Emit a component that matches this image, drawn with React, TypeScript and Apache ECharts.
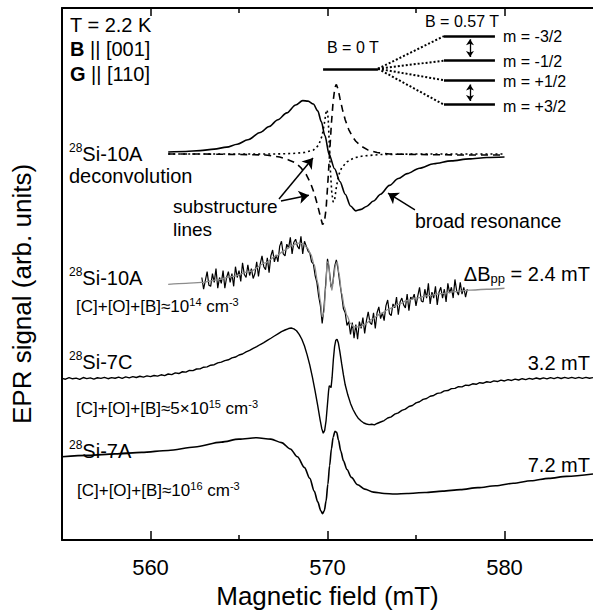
import React, { useEffect, useRef } from "react";
import * as echarts from "echarts";

const FONT = "'Liberation Sans', Arial, Helvetica, sans-serif";

// Axis settings (magnetic field, mT)
const X_MIN = 555;
const X_MAX = 585;
const Y_MIN = 0;
const Y_MAX = 543;
const MAJOR_TICKS = [560, 570, 580];
const MINOR_TICKS = [565, 575];

// ---- 28Si-10A deconvolution ----
const broadResonance: [number, number][] = [
  [561.0, 396], [562.0, 396.5], [562.8, 397.5], [563.6, 399], [564.3, 401], [564.9, 404],
  [565.5, 408.5], [566.2, 416], [566.7, 422], [567.2, 429], [567.7, 436], [568.2, 444],
  [568.6, 448.5], [568.9, 448], [569.2, 445], [569.45, 438], [569.65, 427], [569.85, 413],
  [570.1, 393], [570.4, 379], [570.7, 366], [571.0, 353], [571.3, 341], [571.6, 336],
  [571.9, 337.5], [572.2, 340.5], [572.6, 346], [573.0, 353], [573.5, 362], [574.0, 369],
  [574.5, 374], [575.2, 379.5], [576.0, 384], [577.0, 387], [578.0, 389], [579.0, 390.5], [580.0, 391],
];

const substructureDashed: [number, number][] = [
  [561.0, 394], [563.0, 394], [565.0, 393.5], [566.5, 393], [567.3, 391], [567.8, 388],
  [568.2, 385], [568.5, 380], [568.8, 373], [569.05, 364], [569.25, 354], [569.45, 341],
  [569.6, 330], [569.72, 322], [569.82, 324], [569.92, 338], [570.02, 365], [570.12, 395],
  [570.22, 425], [570.32, 448], [570.42, 462], [570.5, 465], [570.6, 460], [570.7, 451],
  [570.85, 439], [571.0, 429], [571.2, 419], [571.4, 412], [571.6, 407], [571.9, 402],
  [572.3, 398], [572.8, 395.5], [573.5, 394], [575.0, 393.5], [577.5, 393], [580.0, 393],
];

const substructureDotted: [number, number][] = [
  [561.0, 394], [564.0, 394], [567.0, 394], [568.0, 394.5], [568.7, 395.5], [569.2, 398],
  [569.5, 403], [569.7, 413], [569.82, 425], [569.92, 437], [569.98, 439], [570.04, 430],
  [570.1, 405], [570.16, 378], [570.24, 355], [570.32, 345], [570.4, 347], [570.5, 360],
  [570.62, 372], [570.8, 380], [571.1, 386], [571.5, 390], [572.0, 392], [573.0, 393.5],
  [575.0, 394], [580.0, 394],
];

// ---- 28Si-10A measured (noisy) + fit ----
const SI10A_START = 562.9;
const SI10A_STEP = 0.1;
const si10aMeasured: number[] = [
  268, 256, 265, 274, 260, 259, 272, 263, 277, 257,
  268, 262, 275, 257, 268, 274, 263, 272, 259, 279,
  268, 275, 264, 283, 271, 268, 281, 270, 277, 267,
  272, 284, 269, 282, 290, 279, 276, 288, 273, 290,
  296, 284, 291, 284, 300, 305, 292, 290, 302, 298,
  309, 292, 304, 307, 300, 297, 310, 292, 305, 300,
  295, 293, 284, 282, 270, 263, 249, 239, 221, 237,
  262, 287, 276, 258, 262, 279, 286, 276, 262, 250,
  236, 232, 219, 223, 210, 222, 206, 220, 205, 223,
  216, 227, 211, 224, 233, 222, 220, 232, 216, 232,
  238, 226, 232, 224, 239, 245, 231, 229, 241, 237,
  248, 230, 243, 247, 240, 237, 251, 234, 248, 246,
  251, 239, 249, 258, 244, 243, 256, 247, 262, 241,
  253, 247, 259, 240, 253, 258, 247, 256, 243, 262,
  252, 258, 247, 266, 254, 250, 263, 251, 258, 248,
  256,
];

const si10aFit: [number, number][] = [
  [561.0, 261], [562.0, 262], [562.9, 263], [563.8, 265.5], [564.6, 269], [565.6, 274],
  [566.5, 283], [567.1, 290], [567.6, 296], [568.0, 300.5], [568.3, 303], [568.6, 302.5],
  [568.85, 298.5], [569.05, 292], [569.25, 281], [569.45, 263], [569.6, 244], [569.7, 228],
  [569.8, 232], [569.9, 258], [569.98, 284], [570.06, 283], [570.15, 265], [570.25, 255],
  [570.35, 268], [570.45, 281], [570.55, 284], [570.65, 272], [570.8, 252], [570.95, 238],
  [571.1, 229], [571.3, 221], [571.5, 217.5], [571.8, 217.5], [572.1, 220], [572.5, 225.5],
  [573.0, 231], [573.5, 236], [574.0, 240.5], [574.5, 244.5], [575.0, 247], [575.7, 249.5],
  [576.4, 251.5], [577.2, 253.5], [578.0, 255], [579.0, 256], [580.0, 257],
];

// ---- 28Si-7C ----
const si7c: [number, number][] = [
  [555.0, 165.0], [555.2, 164.2], [555.4, 165.8], [555.6, 164.6], [555.8, 165.3], [556.0, 164.1],
  [556.2, 165.9], [556.4, 164.8], [556.6, 165.5], [556.8, 164.3], [557.0, 165.7], [557.2, 165.0],
  [557.4, 166.1], [557.6, 164.7], [557.8, 165.8], [558.0, 165.2], [558.2, 166.4], [558.4, 165.1],
  [558.6, 166.6], [558.8, 165.6], [559.0, 166.9], [559.2, 165.9], [559.4, 167.2], [559.6, 166.3],
  [559.8, 167.6], [560.0, 166.8], [560.2, 168.0], [560.4, 167.3], [560.6, 168.7], [560.8, 167.9],
  [561.0, 169.5], [561.2, 168.9], [561.4, 170.6], [561.6, 170.0], [561.8, 171.8], [562.0, 171.4],
  [562.2, 173.2], [562.4, 172.9], [562.6, 174.6], [562.8, 174.7], [563.0, 176.4], [563.2, 176.8],
  [563.4, 178.5], [563.6, 179.0], [563.8, 180.8], [564.0, 181.6], [564.2, 183.2], [564.4, 184.0],
  [564.6, 185.9], [564.8, 186.8], [565.0, 188.9], [565.2, 189.9], [565.4, 192.0], [565.6, 193.6],
  [565.8, 195.6], [566.0, 197.4], [566.2, 199.6], [566.4, 201.5], [566.6, 203.8], [566.8, 206.0],
  [567.0, 208.3], [567.2, 210.5], [567.4, 212.7], [567.6, 214.4], [567.8, 215.9], [567.95, 216.4],
  [568.1, 215.6], [568.25, 213.6], [568.4, 210.0], [568.55, 205.0], [568.7, 198.0], [568.85, 189.0],
  [569.0, 178.5], [569.15, 166.0], [569.3, 152.0], [569.45, 137.0], [569.58, 123.0], [569.68, 113.5],
  [569.76, 109.0], [569.84, 112.0], [569.92, 122.0], [570.0, 139.0], [570.06, 152.0], [570.1, 157.5],
  [570.15, 157.0], [570.2, 155.5], [570.26, 166.0], [570.33, 184.0], [570.4, 197.5], [570.47, 204.0],
  [570.54, 205.0], [570.61, 201.5], [570.7, 192.0], [570.8, 180.0], [570.9, 168.5], [571.0, 158.5],
  [571.15, 148.0], [571.3, 139.5], [571.45, 133.0], [571.6, 128.0], [571.75, 124.0], [571.9, 121.5],
  [572.05, 119.5], [572.2, 118.5], [572.35, 117.8], [572.5, 118.2], [572.65, 117.6], [572.8, 119.0],
  [573.0, 120.5], [573.2, 122.0], [573.4, 124.6], [573.6, 125.8], [573.8, 128.5], [574.0, 129.8],
  [574.2, 132.4], [574.4, 133.6], [574.6, 136.3], [574.8, 137.4], [575.0, 140.0], [575.2, 141.2],
  [575.4, 143.6], [575.6, 144.5], [575.8, 146.8], [576.0, 147.6], [576.2, 149.7], [576.4, 150.3],
  [576.6, 152.3], [576.8, 152.6], [577.0, 154.6], [577.2, 154.8], [577.4, 156.5], [577.6, 156.4],
  [577.8, 158.1], [578.0, 157.8], [578.2, 159.5], [578.4, 159.0], [578.6, 160.6], [578.8, 160.1],
  [579.0, 161.6], [579.2, 161.0], [579.4, 162.5], [579.6, 161.8], [579.8, 163.2], [580.0, 162.4],
  [580.2, 163.8], [580.4, 162.9], [580.6, 164.3], [580.8, 163.4], [581.0, 164.7], [581.2, 163.8],
  [581.4, 165.1], [581.6, 164.2], [581.8, 165.4], [582.0, 164.4], [582.2, 165.6], [582.4, 164.6],
  [582.6, 165.8], [582.8, 164.8], [583.0, 166.0], [583.2, 164.9], [583.4, 166.0], [583.6, 165.0],
  [583.8, 166.1], [584.0, 165.1], [584.2, 166.1], [584.4, 165.1], [584.6, 166.0], [584.8, 165.2],
  [585.0, 165.8],
];

// ---- 28Si-7A ----
const si7a: [number, number][] = [
  [555.0, 85], [556.5, 86.5], [558.0, 88], [559.5, 89.5], [561.0, 91.5], [562.5, 95],
  [564.0, 100], [565.0, 103], [566.0, 104.5], [566.8, 103], [567.4, 99.5], [567.9, 93],
  [568.3, 85], [568.7, 74], [569.0, 63], [569.25, 50], [569.45, 39], [569.62, 30],
  [569.72, 27], [569.82, 30], [569.92, 40], [570.02, 57], [570.12, 76], [570.22, 93],
  [570.32, 105], [570.42, 111], [570.52, 110], [570.62, 102], [570.75, 91], [570.9, 81],
  [571.1, 72], [571.35, 64], [571.7, 56.5], [572.1, 52], [572.6, 49], [573.2, 47.5],
  [573.8, 47], [574.5, 47.5], [575.5, 48.5], [576.5, 50], [577.5, 51.5], [578.5, 53.5],
  [579.5, 55.5], [580.5, 58], [581.5, 60.5], [582.5, 63], [583.5, 65], [585.0, 67.5],
];

// ---- energy-level scheme (drawn in data coordinates) ----
const LEVEL_ZERO: [number, number][] = [[569.75, 481], [572.85, 481]];
const LEVEL_X = [576.58, 579.46];
const LEVEL_Y = [514.3, 489.3, 469.3, 444.3];
const LEVEL_NAMES = ["m = -3/2", "m = -1/2", "m = +1/2", "m = +3/2"];
const LEVEL_ARROWS: [number, number][][] = [
  [[578.05, 511], [578.05, 493]],
  [[578.05, 465], [578.05, 448]],
];

// annotation arrows (data coordinates)
const POINTER_ARROWS: [number, number][][] = [
  [[567.26, 348], [569.18, 390]],
  [[567.37, 346], [568.95, 352]],
  [[574.94, 337], [573.42, 354]],
];

function buildMeasured(): [number, number][] {
  return si10aMeasured.map((v, i) => [
    Math.round((SI10A_START + i * SI10A_STEP) * 100) / 100,
    v,
  ]);
}

const SUP = { fontSize: 12, fontFamily: FONT, fill: "#000", verticalAlign: "top", lineHeight: 9 };
const SUP_SMALL = { fontSize: 11, fontFamily: FONT, fill: "#000", verticalAlign: "top", lineHeight: 8 };

function text(
  x: number,
  y: number,
  t: string,
  size: number,
  opts: { align?: string; rich?: any; weight?: string; lineHeight?: number; rotation?: number } = {}
) {
  return {
    type: "text",
    x,
    y,
    rotation: opts.rotation || 0,
    silent: true,
    style: {
      text: t,
      fontSize: size,
      fontFamily: FONT,
      fontWeight: opts.weight || "normal",
      fill: "#000",
      align: opts.align || "left",
      verticalAlign: "middle",
      lineHeight: opts.lineHeight || size + 4,
      rich: opts.rich,
    },
  };
}

function lineSeries(data: [number, number][], style: any, extra: any = {}) {
  return {
    type: "line",
    data,
    showSymbol: false,
    symbol: "none",
    silent: true,
    lineStyle: { color: "#000", width: 1.6, ...style },
    ...extra,
  };
}

export default function App() {
  const ref = useRef<HTMLDivElement>(null);

  useEffect(() => {
    if (!ref.current) return;
    const chart = echarts.init(ref.current, null, { renderer: "svg" });

    const baseAxis = {
      type: "value",
      min: X_MIN,
      max: X_MAX,
      splitLine: { show: false },
    };

    const levelLines = LEVEL_Y.map((y) => ({ coords: [[LEVEL_X[0], y], [LEVEL_X[1], y]] }));
    const fanLines = LEVEL_Y.map((y) => ({ coords: [LEVEL_ZERO[1], [LEVEL_X[0], y]] }));

    const richSup = { sup: SUP };
    const richConc = { sup: SUP_SMALL };

    const option: any = {
      animation: false,
      backgroundColor: "#fff",
      grid: { left: 62, right: 0, top: 8, bottom: 63, containLabel: false },
      xAxis: [
        {
          ...baseAxis,
          position: "bottom",
          axisLine: { show: true, onZero: false, lineStyle: { color: "#000", width: 2 } },
          axisTick: { show: true, inside: true, length: 9, customValues: MAJOR_TICKS, lineStyle: { color: "#000", width: 1.5 } },
          axisLabel: { show: true, customValues: MAJOR_TICKS, color: "#000", fontSize: 22, fontFamily: FONT, margin: 16 },
          name: "Magnetic field (mT)",
          nameLocation: "middle",
          nameGap: 35,
          nameTextStyle: { color: "#000", fontSize: 26, fontFamily: FONT },
        },
        {
          ...baseAxis,
          position: "bottom",
          axisLine: { show: false, onZero: false },
          axisTick: { show: true, inside: true, length: 5, customValues: MINOR_TICKS, lineStyle: { color: "#000", width: 1.5 } },
          axisLabel: { show: false },
        },
        {
          ...baseAxis,
          position: "top",
          axisLine: { show: true, onZero: false, lineStyle: { color: "#000", width: 2 } },
          axisTick: { show: true, inside: true, length: 8, customValues: MAJOR_TICKS, lineStyle: { color: "#000", width: 1.5 } },
          axisLabel: { show: false },
        },
        {
          ...baseAxis,
          position: "top",
          axisLine: { show: false, onZero: false },
          axisTick: { show: true, inside: true, length: 5, customValues: MINOR_TICKS, lineStyle: { color: "#000", width: 1.5 } },
          axisLabel: { show: false },
        },
      ],
      yAxis: {
        type: "value",
        min: Y_MIN,
        max: Y_MAX,
        axisLine: { show: true, onZero: false, lineStyle: { color: "#000", width: 2 } },
        axisTick: { show: false },
        axisLabel: { show: false },
        splitLine: { show: false },
      },
      series: [
        lineSeries(substructureDotted, { type: [2, 3], width: 1.6 }),
        lineSeries(substructureDashed, { type: [7, 5], width: 1.6 }),
        lineSeries(broadResonance, { width: 1.6 }, { smooth: 0.3, smoothMonotone: "x" }),
        lineSeries(buildMeasured(), { width: 1.2 }),
        lineSeries(si10aFit, { color: "#8c8c8c", width: 1.3 }, { smooth: 0.3, smoothMonotone: "x" }),
        lineSeries(si7c, { width: 1.4 }),
        lineSeries(si7a, { width: 1.6 }, { smooth: 0.3, smoothMonotone: "x" }),
        {
          type: "lines",
          coordinateSystem: "cartesian2d",
          silent: true,
          symbol: "none",
          lineStyle: { color: "#000", width: 2.5, opacity: 1 },
          data: [{ coords: LEVEL_ZERO }, ...levelLines],
        },
        {
          type: "lines",
          coordinateSystem: "cartesian2d",
          silent: true,
          symbol: "none",
          lineStyle: { color: "#000", width: 2, type: [2, 2], opacity: 1 },
          data: fanLines,
        },
        {
          type: "lines",
          coordinateSystem: "cartesian2d",
          silent: true,
          symbol: ["arrow", "arrow"],
          symbolSize: 6,
          lineStyle: { color: "#000", width: 1.3, opacity: 1 },
          data: LEVEL_ARROWS.map((c) => ({ coords: c })),
        },
        {
          type: "lines",
          coordinateSystem: "cartesian2d",
          silent: true,
          symbol: ["none", "arrow"],
          symbolSize: 10,
          lineStyle: { color: "#000", width: 1.5, opacity: 1 },
          data: POINTER_ARROWS.map((c) => ({ coords: c })),
        },
      ],
      graphic: [
        text(22, 294, "EPR signal (arb. units)", 26, { align: "center", rotation: Math.PI / 2 }),
        text(70, 25, "T = 2.2 K", 20),
        text(70, 49, "{b|B} || [001]", 20, { rich: { b: { fontSize: 20, fontFamily: FONT, fontWeight: "bold", fill: "#000" } } }),
        text(70, 74, "{b|G} || [110]", 20, { rich: { b: { fontSize: 20, fontFamily: FONT, fontWeight: "bold", fill: "#000" } } }),
        text(425, 21.5, "B = 0.57 T", 16),
        text(327, 47.5, "B = 0 T", 16),
        ...LEVEL_NAMES.map((n, i) => text(503, [36, 61, 81.7, 106][i], n, 16)),
        text(69, 154, "{sup|28}Si-10A", 20, { rich: richSup, lineHeight: 24 }),
        text(69, 176, "deconvolution", 20),
        text(173, 206, "substructure", 19),
        text(173, 229, "lines", 19),
        text(415, 221, "broad resonance", 19.5),
        text(69, 278, "{sup|28}Si-10A", 20, { rich: richSup, lineHeight: 24 }),
        text(76, 306, "[C]+[O]+[B]≈10{sup|14} cm{sup|-3}", 17, { rich: richConc, lineHeight: 20 }),
        text(590, 274, "ΔB{sub|pp} = 2.4 mT", 20, {
          align: "right",
          lineHeight: 22,
          rich: { sub: { fontSize: 13, fontFamily: FONT, fill: "#000", verticalAlign: "bottom", lineHeight: 8 } },
        }),
        text(69, 362, "{sup|28}Si-7C", 20, { rich: richSup, lineHeight: 24 }),
        text(590, 363, "3.2 mT", 20, { align: "right" }),
        text(76, 408, "[C]+[O]+[B]≈5×10{sup|15} cm{sup|-3}", 17, { rich: richConc, lineHeight: 20 }),
        text(69, 451, "{sup|28}Si-7A", 20, { rich: richSup, lineHeight: 24 }),
        text(590, 465, "7.2 mT", 20, { align: "right" }),
        text(77, 490, "[C]+[O]+[B]≈10{sup|16} cm{sup|-3}", 17, { rich: richConc, lineHeight: 20 }),
      ],
    };

    chart.setOption(option);
    return () => chart.dispose();
  }, []);

  return (
    <div
      ref={ref}
      style={{ position: "absolute", left: 0, top: 0, width: 593, height: 614, background: "#fff" }}
    />
  );
}
